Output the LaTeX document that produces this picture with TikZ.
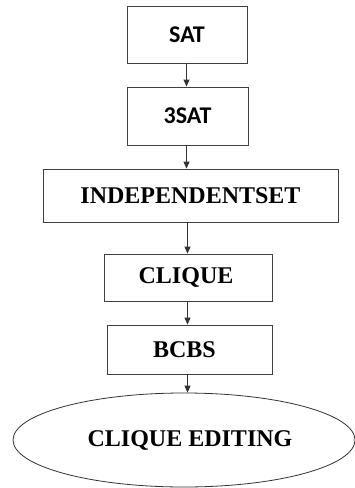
\documentclass[tikz,border=0pt]{standalone}
\usepackage{fontspec}
\setmainfont{Liberation Serif}
\newfontfamily\calib{Carlito}
\usetikzlibrary{arrows.meta,shapes.geometric}
\begin{document}
\begin{tikzpicture}[x=1pt,y=-1pt,
  box/.style={draw=black!75, line width=0.9pt, rectangle, inner sep=0pt,
    font=\bfseries\fontsize{24}{28}\selectfont},
  sbox/.style={box, font=\calib\bfseries\fontsize{24}{28}\selectfont},
  oval/.style={ellipse, draw=black!80, line width=0.8pt, inner sep=0pt,
    font=\bfseries\fontsize{24}{28}\selectfont},
  arr/.style={draw=black!80, line width=0.9pt, -{Triangle[length=7pt,width=6pt]}}]
\useasboundingbox (0,0) rectangle (355,488);
\node[sbox, minimum width=120pt, minimum height=57pt] (sat) at (187,34.5) {SAT};
\node[sbox, minimum width=121pt, minimum height=58pt] (tsat) at (187.5,116) {3SAT};
\node[box, minimum width=295pt, minimum height=53pt] (ind) at (190.5,195.5) {INDEPENDENTSET};
\node[box, minimum width=168pt, minimum height=47pt] (clq) at (188,277.5) {\hspace*{-4pt}CLIQUE};
\node[box, minimum width=165pt, minimum height=49pt] (bcbs) at (189.5,349.5) {\hspace*{-10pt}BCBS};
\node[oval, minimum width=342pt, minimum height=94pt] (ce) at (184,440) {\hspace*{12pt}CLIQUE EDITING};
\coordinate (ax) at (186.5,0);
\coordinate (bx) at (187.5,0);
\draw[arr] (sat.south -| ax) -- (tsat.north -| ax);
\draw[arr] (tsat.south -| ax) -- (ind.north -| ax);
\draw[arr] (ind.south -| bx) -- (clq.north -| bx);
\draw[arr] (clq.south -| bx) -- (bcbs.north -| bx);
\draw[arr] (bcbs.south -| bx) -- (ce.north -| bx);
\end{tikzpicture}
\end{document}
